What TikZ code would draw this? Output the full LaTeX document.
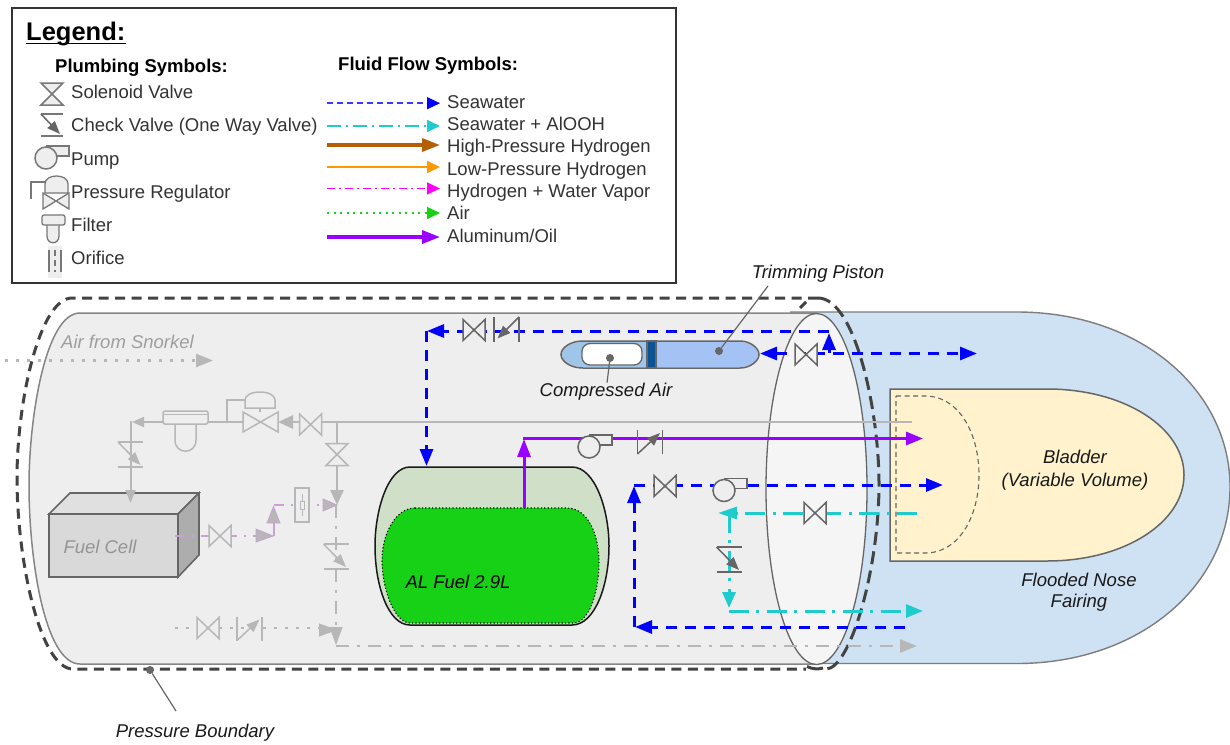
\documentclass[tikz,border=0pt]{standalone}
\usepackage{fontspec}
\setmainfont{Liberation Sans}
\usetikzlibrary{arrows.meta}
\definecolor{hullc}{HTML}{EEEEEE}
\definecolor{ellc}{HTML}{F5F5F5}
\definecolor{nosec}{HTML}{CFE2F3}
\definecolor{ink}{HTML}{666666}
\definecolor{inkL}{HTML}{777777}
\definecolor{faded}{HTML}{B7B7B7}
\definecolor{sea}{HTML}{0000FF}
\definecolor{seaLeg}{HTML}{3A3AFF}
\definecolor{cyanf}{HTML}{1FCBCB}
\definecolor{brownf}{HTML}{B45F06}
\definecolor{orangef}{HTML}{FF9900}
\definecolor{magf}{HTML}{FF00FF}
\definecolor{greenf}{HTML}{16D116}
\definecolor{purf}{HTML}{9900FF}
\definecolor{pinkf}{HTML}{CC9FD6}
\definecolor{tankc}{HTML}{D0E0C8}
\definecolor{bladc}{HTML}{FFF2CC}
\definecolor{pistA}{HTML}{A4C2F4}
\definecolor{pistB}{HTML}{9FC5E8}
\definecolor{pistC}{HTML}{0B5394}
\definecolor{bound}{HTML}{434343}
\tikzset{
 x=1pt,y=-1pt,
 tipA/.style={-{Triangle[length=17pt,width=13pt]}},
 seaL/.style={draw=sea,line width=3pt,dash pattern=on 11pt off 8pt},
 cyanL/.style={draw=cyanf,line width=3pt,dash pattern=on 20pt off 7pt on 3pt off 8pt},
 airG/.style={draw=faded,line width=2.5pt,dash pattern=on 2.5pt off 8.5pt},
 grayDD/.style={draw=faded,line width=2.8pt,dash pattern=on 13pt off 8pt on 3pt off 8pt},
 pinkL/.style={draw=pinkf,line width=2.2pt,dash pattern=on 10pt off 7pt on 2pt off 7pt},
 lab/.style={font=\fontsize{18.5pt}{21pt}\selectfont,anchor=west,text=black!80,inner sep=0pt,yshift=-1.5pt,text height=13.3pt,text depth=3.9pt},
 captxt/.style={font=\fontsize{18.5pt}{21.5pt}\selectfont\itshape,inner sep=0pt,align=center,text=black!90,yshift=-1.5pt},
 headtxt/.style={font=\fontsize{18.5pt}{21pt}\selectfont\bfseries,inner sep=0pt,yshift=-1.5pt},
 dotm/.style={fill=ink,draw=none,circle,minimum size=8pt,inner sep=0pt},
}
\newcommand{\bowH}[4]{\draw[draw=#3,line width=1.5pt,fill=#4] (#1-11,#2-10.5)--(#1+11,#2+10.5)--(#1+11,#2-10.5)--(#1-11,#2+10.5)--cycle;}
\newcommand{\bowV}[4]{\draw[draw=#3,line width=1.5pt,fill=#4] (#1-11,#2-11)--(#1+11,#2-11)--(#1-11,#2+11)--(#1+11,#2+11)--cycle;}
\newcommand{\chkD}[3]{\draw[draw=#3,line width=1.5pt] (#1-12.5,#2-12.5)--(#1+12.5,#2-12.5) (#1-12.5,#2+12.5)--(#1+12.5,#2+12.5);
 \draw[draw=#3,line width=1.5pt,-{Triangle[length=13pt,width=10pt]},#3] (#1-12.5,#2-12.5)--(#1+10,#2+10.5);}
\newcommand{\chkR}[3]{\draw[draw=#3,line width=1.5pt] (#1-12.5,#2-12)--(#1-12.5,#2+12) (#1+12.5,#2-12)--(#1+12.5,#2+12);
 \draw[draw=#3,line width=1.5pt,-{Triangle[length=13pt,width=10pt]},#3] (#1-12.5,#2+12)--(#1+10,#2-9);}
\newcommand{\chkL}[3]{\draw[draw=#3,line width=1.5pt] (#1-12.5,#2-12.5)--(#1-12.5,#2+12.5) (#1+12.5,#2-12.5)--(#1+12.5,#2+12.5);
 \draw[draw=#3,line width=1.5pt,-{Triangle[length=13pt,width=10pt]},#3] (#1+12.5,#2-12.5)--(#1-9,#2+9);}
\newcommand{\pump}[4]{\draw[draw=#3,line width=1.5pt,fill=#4] (#1,#2-12)--(#1+23,#2-12)--(#1+23,#2-2)--(#1+8,#2-2);
 \draw[draw=#3,line width=1.5pt,fill=#4] (#1,#2) circle[radius=11];}
\begin{document}
\begin{tikzpicture}
\useasboundingbox (0,0) rectangle (1230,744);
\fill[white] (0,0) rectangle (1230,744);

% nose fairing
\draw[draw=ink!85,line width=1.4pt,fill=nosec] (790,312)--(1017,312) .. controls (1140,312) and (1230,390) .. (1230,487)
 .. controls (1230,585) and (1140,663.5) .. (1017,663.5)--(790,663.5);
% hull
\draw[draw=ink!80,line width=1.5pt,fill=hullc] (816,313)--(80,313) .. controls (45,313) and (29,420) .. (29,485)
 .. controls (29,560) and (45,664) .. (80,664)--(816,664)--cycle;
% pressure boundary hidden-side stubs
\draw[draw=bound,line width=3pt] (800,308)--(806,302);
\draw[draw=bound,line width=3pt] (807,666.5) .. controls (812,669) and (818,669.5) .. (823,668);
% bulkhead ellipse
\draw[draw=ink,line width=1.3pt,fill=ellc] (816.5,489) ellipse[x radius=50.5,y radius=175.5];

% bladder
\draw[draw=ink,line width=1.5pt,fill=bladc] (890,389)--(1047,389) .. controls (1125,389) and (1184,428) .. (1184,475)
 .. controls (1184,522) and (1125,561) .. (1047,561)--(890,561)--cycle;
\draw[draw=ink,line width=1.1pt,dash pattern=on 5pt off 3.5pt] (896,396)--(925,396) .. controls (960,396) and (979,435) .. (979,475)
 .. controls (979,515) and (960,553) .. (925,553)--(896,553)--cycle;

% pressure boundary
\draw[draw=bound,line width=3pt,dash pattern=on 10pt off 6.5pt] (818,298)--(72,298) .. controls (40,298) and (17,400) .. (17,478)
 .. controls (17,560) and (40,669) .. (73,669)--(806,669);
\draw[draw=bound,line width=3pt,dash pattern=on 13pt off 6.5pt] (818,298) .. controls (855,298) and (879,410) .. (879,484)
 .. controls (879,570) and (850,669) .. (826,669);

% fuel cell
\draw[draw=ink,line width=1.6pt,fill=black!12] (49,514)--(70,493)--(199,493)--(178,514)--cycle;
\draw[draw=ink,line width=1.6pt,fill=black!32] (178,514)--(199,493)--(199,555)--(178,577)--cycle;
\draw[draw=ink,line width=1.6pt,fill=black!15] (49,514) rectangle (178,577);
\node[captxt,text=black!42] (fc) at (100,545.5) {Fuel Cell};

% tank
\draw[draw=black!90,line width=1.5pt,fill=tankc] (410,467)--(572,467) .. controls (595,467) and (609,510) .. (609,546)
 .. controls (609,585) and (595,625) .. (572,625)--(410,625) .. controls (388,625) and (375,585) .. (375,546)
 .. controls (375,510) and (388,467) .. (410,467)--cycle;
\draw[draw=black,line width=1.1pt,dash pattern=on 1.2pt off 2.2pt,fill=greenf] (415,508)--(567,508) .. controls (588,508) and (599,535) .. (599,562)
 .. controls (599,590) and (590,623) .. (573,623)--(410,623) .. controls (395,623) and (382,590) .. (382,560)
 .. controls (382,535) and (395,508) .. (415,508)--cycle;
\node[captxt,text=black] (fuel) at (458,580.5) {AL Fuel 2.9L};

% hydrogen grey plumbing
\draw[draw=faded,line width=2.8pt] (912,422)--(321,422);
\draw[draw=faded,line width=2.8pt,-{Triangle[length=15pt,width=13pt]}] (300,422)--(278,422);
\draw[draw=faded,line width=2pt] (243,422)--(208,422);
\draw[draw=faded,line width=2pt,-{Triangle[length=12pt,width=10pt]}] (163,422)--(132,422);
\draw[draw=faded,line width=2pt,-{Triangle[length=13pt,width=10pt]}] (130.5,421)--(130.5,503);
\draw[draw=faded,line width=2.8pt,-{Triangle[length=15pt,width=13pt]}] (337,422)--(337,505);
\draw[grayDD] (336,505)--(336,628);
\draw[draw=faded,line width=1pt,-{Triangle[length=18pt,width=13pt]}] (336,627)--(336,645);
\draw[grayDD,tipA] (336,646)--(917,646);
\bowH{310.5}{424.5}{faded}{hullc}
\bowV{337}{454.5}{faded}{hullc}
% regulator
\draw[draw=faded,line width=1.5pt] (260,408)--(260,412) (227,422)--(227,400)--(245,400);
\draw[draw=faded,line width=1.5pt,fill=hullc] (245,408)--(245,400) .. controls (245,395) and (252,392) .. (260,392) .. controls (268,392) and (275,395) .. (275,400)--(275,408)--cycle;
\draw[draw=faded,line width=1.5pt,fill=hullc] (243,412)--(278,432)--(278,412)--(243,432)--cycle;
% filter
\draw[draw=faded,line width=1.5pt,fill=hullc] (175,424)--(175,440) .. controls (175,455) and (196,455) .. (196,440)--(196,424);
\draw[draw=faded,line width=1.5pt,fill=hullc,rounded corners=2pt] (163,411) rectangle (208,424);
\draw[draw=faded,line width=1pt] (163,414)--(208,414);
\chkD{130.5}{454.5}{faded}
\chkD{336}{556.5}{faded}

% air
\draw[airG,tipA] (5,360.5)--(213,360.5);
\node[captxt,text=black!38] (snork) at (127.5,340.5) {Air from Snorkel};
\draw[airG] (175,628)--(320,628);
\draw[draw=faded,line width=1pt,-{Triangle[length=18pt,width=13pt]}] (319,630)--(337,630);
\bowH{208}{628}{faded}{hullc}
\chkR{249.5}{628.5}{faded}

% hydrogen + water vapour
\draw[pinkL] (175,536)--(258,536);
\bowH{220}{536}{faded}{hullc}
\draw[draw=pinkf,line width=2pt] (273.5,536)--(273.5,520);
\filldraw[fill=faded,draw=pinkf,line width=.8pt] (256,529)--(273,536)--(256,542)--cycle;
\filldraw[fill=faded,draw=pinkf,line width=.8pt] (267,523)--(273.5,506.5)--(280,523)--cycle;
\draw[pinkL] (274,505)--(325,505);
\filldraw[fill=faded,draw=pinkf,line width=.8pt] (323,499)--(337,505)--(323,511)--cycle;
\draw[draw=faded,line width=1.2pt,fill=hullc] (295,488) rectangle (309,522);
\draw[draw=faded,line width=1pt] (302,494)--(302,501) (302,509)--(302,516);
\draw[draw=faded,line width=1pt] (300,501) rectangle (304,509);

% aluminium / oil
\draw[draw=purf,line width=3pt,-{Triangle[length=18pt,width=13pt]}] (524,508)--(524,439);
\draw[draw=purf,line width=3pt,tipA] (523,438.5)--(923,438.5);
\pump{589}{447}{ink}{hullc}
\chkR{650}{442}{ink}

% upper seawater
\draw[seaL,tipA] (829,331)--(427,331);
\draw[seaL,tipA] (426.5,331)--(426.5,466);
\bowH{474}{330}{ink}{hullc}
\chkL{506.5}{329.5}{ink}
\draw[seaL,{Triangle[length=17pt,width=13pt]}-{Triangle[length=17pt,width=13pt]}] (760,353.5)--(977,353.5);
\draw[draw=sea,line width=3pt,-{Triangle[length=17pt,width=13pt]}] (829,353)--(829,333);
\bowH{806}{354.5}{ink}{ellc}

% trimming piston
\fill[pistA] (656,342)--(740,342) .. controls (750,342) and (758,348) .. (758,354.5) .. controls (758,361) and (750,367) .. (740,367)--(656,367)--cycle;
\fill[pistB] (647,342)--(583,342) .. controls (570,342) and (562,348) .. (562,354.5) .. controls (562,361) and (570,367) .. (583,367)--(647,367)--cycle;
\draw[draw=ink,line width=1.5pt] (583,341)--(740,341) .. controls (750,341) and (759,348) .. (759,354.5) .. controls (759,361) and (750,368) .. (740,368)--(583,368) .. controls (570,368) and (561,361) .. (561,354.5) .. controls (561,348) and (570,341) .. (583,341)--cycle;
\draw[draw=ink,line width=1.2pt,fill=pistC] (647,341) rectangle (656,368);
\draw[draw=ink,line width=1.3pt,fill=white,rounded corners=8pt] (582,343.5) rectangle (642,365);
\node[dotm] (ca) at (610,358) {};
\node[dotm] (tp) at (719,351) {};
\node[captxt] (catext) at (606,390) {Compressed Air};
\node[captxt] (tptext) at (818,272) {Trimming Piston};
\draw[draw=ink,line width=1.2pt] (ca)--(catext);
\draw[draw=ink,line width=1.2pt] (tp)--(768,286);

% middle seawater
\draw[seaL,tipA] (634,485)--(943,485);
\bowH{665}{486}{ink}{hullc}
\pump{724}{490.5}{ink}{hullc}
\draw[seaL,tipA] (634,627)--(634,486);
\draw[seaL,tipA] (905,627)--(635,627);

% cyan
\draw[cyanL,-{Triangle[length=19pt,width=12pt]}] (917,513)--(718,513);
\bowH{815}{513}{ink}{ellc}
\draw[cyanL,-{Triangle[length=16pt,width=13pt]}] (729,513)--(729,608);
\chkD{729}{559.5}{ink}
\draw[cyanL,tipA] (729,611)--(923,611);

% labels
\node[captxt] (blad) at (1075,468.5) {Bladder\\[1pt](Variable Volume)};
\node[captxt] (nose) at (1079,590.5) {Flooded Nose\\Fairing};
\node[captxt] (pb) at (195,731) {Pressure Boundary};
\node[dotm] (pbd) at (150,670) {};
\draw[draw=ink,line width=1.2pt] (pbd)--(176,711);

% legend
\draw[draw=black!80,line width=1.5pt,fill=white] (12,8) rectangle (676,283);
\node[inner sep=0pt,anchor=west,font=\fontsize{25.5pt}{28pt}\selectfont\bfseries] (leg) at (26,34) {Legend:};
\draw[black,line width=1.6pt] (26,43.5)--(126,43.5);
\node[headtxt,anchor=west] (ps) at (55,66) {Plumbing Symbols:};
\node[headtxt,anchor=west] (fs) at (338,64) {Fluid Flow Symbols:};
\node[lab] (l1) at (71,92.5) {Solenoid Valve};
\node[lab] (l2) at (71,125.5) {Check Valve (One Way Valve)};
\node[lab] (l3) at (71,159.5) {Pump};
\node[lab] (l4) at (71,192.5) {Pressure Regulator};
\node[lab] (l5) at (71,225.5) {Filter};
\node[lab] (l6) at (71,258.5) {Orifice};
\bowV{52}{94}{inkL}{hullc}
\draw[draw=inkL,line width=1.5pt] (41,114)--(63,114) (41,136)--(63,136);
\draw[draw=inkL,line width=1.5pt,-{Triangle[length=13pt,width=10pt]},ink] (41,114)--(60,134);
\pump{46}{158}{inkL}{hullc}
\draw[draw=inkL,line width=1.3pt] (31,199)--(31,182)--(45,182);
\draw[draw=inkL,line width=1.3pt,fill=hullc] (45,193)--(45,184) .. controls (45,179) and (50,176) .. (56.5,176) .. controls (63,176) and (68,179) .. (68,184)--(68,193)--cycle;
\draw[draw=inkL,line width=1.3pt,fill=hullc] (43,193)--(69,209)--(69,193)--(43,209)--cycle;
\draw[draw=inkL,line width=1.3pt,fill=hullc] (47,225)--(47,236) .. controls (47,245) and (59,245) .. (59,236)--(59,225);
\draw[draw=inkL,line width=1.3pt,fill=hullc,rounded corners=2pt] (42,215) rectangle (65,225);
\fill[hullc] (48,246) rectangle (62,278);
\draw[draw=inkL,line width=1.1pt] (49,250)--(49,272) (61,250)--(61,272);
\draw[draw=inkL,line width=1.1pt,dash pattern=on 6pt off 4pt] (55,250)--(55,272);
% flow legend
\node[lab] (f1) at (447,102.5) {Seawater};
\node[lab] (f2) at (447,124.5) {Seawater + AlOOH};
\node[lab] (f3) at (447,146.5) {High-Pressure Hydrogen};
\node[lab] (f4) at (447,169.5) {Low-Pressure Hydrogen};
\node[lab] (f5) at (447,191.5) {Hydrogen + Water Vapor};
\node[lab] (f6) at (447,213.5) {Air};
\node[lab] (f7) at (447,236.5) {Aluminum/Oil};
\draw[draw=seaLeg,line width=1.8pt,dash pattern=on 6pt off 4pt] (327,103.2)--(428,103.2);
\fill[sea] (427,97)--(440,103.2)--(427,109.4)--cycle;
\draw[draw=cyanf,line width=1.7pt,dash pattern=on 14pt off 5pt on 2pt off 5pt,-{Triangle[length=13pt,width=12pt]}] (327,126)--(440,126);
\draw[draw=brownf,line width=3.2pt,-{Triangle[length=18pt,width=13pt]}] (327,145)--(440,145);
\draw[draw=orangef,line width=1.8pt,-{Triangle[length=13pt,width=12pt]}] (327,167)--(440,167);
\draw[draw=magf,line width=1.7pt,dash pattern=on 8pt off 4pt on 2pt off 4pt,-{Triangle[length=13pt,width=12pt]}] (327,188.5)--(440,188.5);
\draw[draw=greenf,line width=1.5pt,dash pattern=on 2pt off 4.5pt,-{Triangle[length=13pt,width=12pt]}] (327,213)--(440,213);
\draw[draw=purf,line width=3.2pt,-{Triangle[length=18pt,width=13pt]}] (327,237)--(440,237);
\end{tikzpicture}
\end{document}
